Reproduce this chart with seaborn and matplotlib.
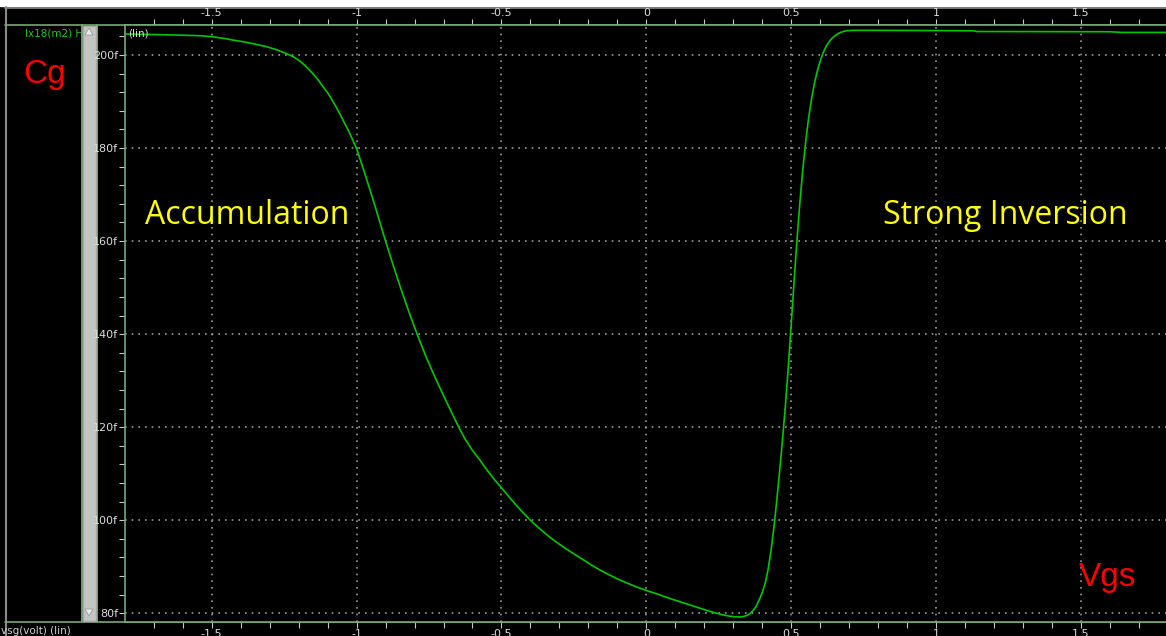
import numpy as np
import pandas as pd
import matplotlib
matplotlib.use("Agg")
import matplotlib.pyplot as plt
import seaborn as sns
from matplotlib.patches import Rectangle, Polygon
from matplotlib.ticker import MultipleLocator, FixedLocator

# ---------------- data ----------------
vgs = [-1.80, -1.70, -1.60, -1.541, -1.50, -1.45, -1.426, -1.40, -1.37, -1.34,
       -1.311, -1.29, -1.27, -1.25, -1.231, -1.215, -1.20, -1.187, -1.174, -1.16,
       -1.145, -1.13, -1.116, -1.10, -1.087, -1.073, -1.059, -1.045, -1.03, -1.015,
       -1.000, -0.975, -0.95, -0.925, -0.900, -0.875, -0.85, -0.82, -0.791, -0.76,
       -0.724, -0.69, -0.649, -0.625, -0.600, -0.575, -0.55, -0.525, -0.500, -0.475,
       -0.45, -0.425, -0.400, -0.365, -0.33, -0.29, -0.251, -0.22, -0.19, -0.16,
       -0.136, -0.10, -0.07, -0.035, 0.000, 0.04, 0.075, 0.11, 0.150, 0.18,
       0.21, 0.24, 0.265, 0.285, 0.305, 0.322, 0.335, 0.345, 0.357, 0.368,
       0.377, 0.385, 0.393, 0.40, 0.41, 0.42, 0.43, 0.44, 0.45, 0.46,
       0.47, 0.48, 0.49, 0.50, 0.51, 0.52, 0.53, 0.54, 0.55, 0.56,
       0.57, 0.58, 0.59, 0.60, 0.61, 0.62, 0.63, 0.64, 0.65, 0.66,
       0.67, 0.68, 0.69, 0.71, 0.80, 1.00, 1.13, 1.14, 1.60, 1.64, 1.80]
cg_fF = [204.5, 204.4, 204.25, 204.15, 203.95, 203.5, 203.2, 202.95, 202.6, 202.2,
         201.8, 201.4, 201.0, 200.5, 200.0, 199.5, 198.9, 198.25, 197.5, 196.6,
         195.6, 194.45, 193.2, 191.9, 190.6, 189.1, 187.5, 185.8, 184.0, 182.0,
         179.9, 175.2, 170.3, 165.2, 160.0, 155.1, 150.3, 144.9, 140.0, 135.1,
         130.0, 125.5, 120.2, 117.4, 115.0, 113.0, 110.8, 108.8, 107.0, 105.1,
         103.3, 101.6, 100.0, 98.0, 96.2, 94.4, 92.8, 91.6, 90.4, 89.3,
         88.5, 87.4, 86.6, 85.7, 84.9, 84.1, 83.3, 82.6, 81.8, 81.2,
         80.6, 80.05, 79.65, 79.4, 79.25, 79.2, 79.3, 79.5, 79.9, 80.6,
         81.3, 82.3, 83.4, 84.5, 86.45, 89.4, 93.4, 98.4, 104.3, 110.7,
         117.45, 124.85, 133.15, 142.3, 151.6, 160.5, 168.5, 175.5, 181.5, 186.5,
         190.6, 193.95, 196.6, 198.75, 200.5, 201.8, 202.8, 203.55, 204.1, 204.55,
         204.85, 205.05, 205.2, 205.3, 205.3, 205.25, 205.2, 205.05, 205.0, 204.85, 204.85]

x_major = [-1.5, -1.0, -0.5, 0.0, 0.5, 1.0, 1.5]
x_labels = ["-1.5", "-1", "-0.5", "0", "0.5", "1", "1.5"]
y_major = [80, 100, 120, 140, 160, 180, 200]
y_labels = ["80f", "100f", "120f", "140f", "160f", "180f", "200f"]

W, H = 1166, 636
X_LIM = (-1.799, 1.793)
Y_LIM = (78.13, 206.45)

sns.set_theme(style="dark")
plt.rcParams["font.family"] = ["DejaVu Sans"]

fig = plt.figure(figsize=(W / 100, H / 100), dpi=100, facecolor="black")

# ---------------- overlay (window chrome) ----------------
ov = fig.add_axes([0, 0, 1, 1], zorder=0)
ov.set_xlim(0, W)
ov.set_ylim(H, 0)
ov.axis("off")
frame_green = "#78a878"
ov.add_patch(Rectangle((0, 0), W, 6, color="white", zorder=1))
ov.plot([5, W], [7.5, 7.5], color="#8a8a8a", lw=1.2, zorder=2)
ov.plot([5.5, 5.5], [7, H], color="#8a8a8a", lw=1.5, zorder=2)
ov.plot([5, W], [25, 25], color=frame_green, lw=1.2, zorder=2)
ov.plot([5, W], [621.5, 621.5], color=frame_green, lw=1.2, zorder=2)
# scrollbar
ov.plot([81.5, 81.5], [25, 621], color=frame_green, lw=1.3, zorder=3)
ov.plot([96.5, 96.5], [25, 621], color=frame_green, lw=1.3, zorder=3)
ov.add_patch(Rectangle((82.5, 25.5), 13.5, 595, facecolor="#c4c4c4",
                       edgecolor="#a8a8a8", lw=1.0, zorder=3))
ov.add_patch(Polygon([[85, 35], [93, 35], [89, 28]], closed=True,
                     facecolor="#ececec", edgecolor="#9a9a9a", lw=0.6, zorder=4))
ov.add_patch(Polygon([[85, 609], [93, 609], [89, 616]], closed=True,
                     facecolor="#ececec", edgecolor="#9a9a9a", lw=0.6, zorder=4))
ov.text(25, 34, "lx18(m2) H", color="#22c822", fontsize=7.5, va="center",
        ha="left", zorder=2)
ov.text(1, 626, "vsg(volt) (lin)", color="#d0d0d0", fontsize=7.5, va="top",
        ha="left", zorder=2)
ov.text(45, 74, "Cg", color="#ff0000", fontsize=24, va="center", ha="center",
        family="Liberation Sans", zorder=2)

# ---------------- main plot ----------------
ax = fig.add_axes([125 / W, (H - 622) / H, (W - 125) / W, (622 - 25) / H], zorder=1)
ax.set_facecolor("black")
df = pd.DataFrame({"Vgs": vgs, "Cg": cg_fF})
sns.lineplot(data=df, x="Vgs", y="Cg", ax=ax, color="#00c800", linewidth=1.2,
             estimator=None, sort=False)
ax.set_xlim(*X_LIM)
ax.set_ylim(*Y_LIM)
ax.set_xlabel("")
ax.set_ylabel("")

ax.xaxis.set_major_locator(FixedLocator(x_major))
ax.set_xticklabels(x_labels)
ax.xaxis.set_minor_locator(MultipleLocator(0.1))
ax.yaxis.set_major_locator(FixedLocator(y_major))
ax.set_yticklabels(y_labels)
ax.yaxis.set_minor_locator(MultipleLocator(4))

tick_col = "#c8c8c8"
lab_col = "#dcdcdc"
ax.tick_params(axis="x", which="both", top=True, bottom=True, labeltop=True,
               labelbottom=True, direction="out", length=4, width=0.8,
               color=tick_col, labelcolor=lab_col, labelsize=8, pad=1.5)
ax.tick_params(axis="x", which="major", pad=1.0)
ax.tick_params(axis="y", which="both", left=True, right=False, direction="out",
               length=4, width=0.8, color=tick_col, labelcolor=lab_col,
               labelsize=8, pad=1)

for side in ["left", "top", "bottom"]:
    ax.spines[side].set_visible(True)
    ax.spines[side].set_color(frame_green)
    ax.spines[side].set_linewidth(1.2)
ax.spines["right"].set_visible(False)

ax.grid(True, which="major", color="#9a9a9a", linestyle=(0, (1, 3)), linewidth=1.2)
ax.grid(False, which="minor")
ax.set_axisbelow(True)

ax.text(0.003, 0.985, "(lin)", transform=ax.transAxes, color=lab_col, fontsize=7.5,
        va="center", ha="left")
ax.text(-1.376, 165.6, "Accumulation", color="#ffff00", fontsize=23,
        family="Open Sans", va="center", ha="center")
ax.text(1.24, 165.6, "Strong Inversion", color="#ffff00", fontsize=23,
        family="Open Sans", va="center", ha="center")
ax.text(1.59, 87.7, "Vgs", color="#ff0000", fontsize=24, family="Liberation Sans",
        va="center", ha="center")

fig.savefig("out.png", dpi=100, facecolor="black")
